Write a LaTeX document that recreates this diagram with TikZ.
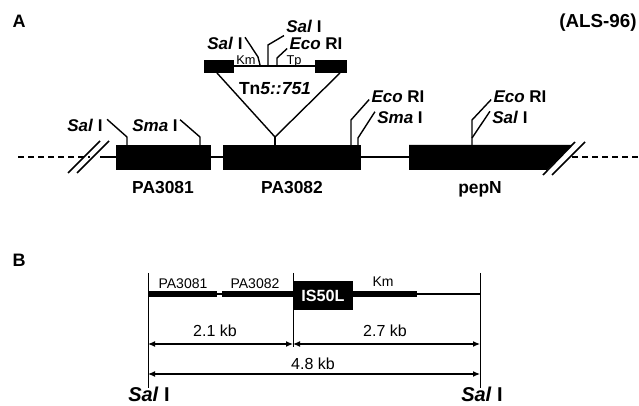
\documentclass[tikz,border=0pt]{standalone}
\usepackage{fontspec}
\setmainfont{Liberation Sans}
\usetikzlibrary{arrows.meta}
\newcommand{\fsz}[1]{\fontsize{#1}{#1}\selectfont}
\newcommand{\enz}[2]{\textit{#1} #2}
\tikzset{
  gene/.style={fill=black},
  lead/.style={line width=0.7pt},
  brk/.style={line width=0.8pt},
  site/.style={font=\fsz{8.5}\bfseries, inner sep=0pt, anchor=base},
  genelbl/.style={font=\fsz{8.7}\bfseries, inner sep=0pt, anchor=base},
  small/.style={font=\fsz{6.4}, inner sep=0pt, anchor=base},
  mapB/.style={font=\fsz{7}, inner sep=0pt, anchor=base},
  thick line/.style={line width=2.6pt},
  thin line/.style={line width=0.7pt},
}
\begin{document}
\begin{tikzpicture}[x=0.5pt,y=-0.5pt,>={Latex[length=3.5pt,width=3pt]}]
\useasboundingbox (0,0) rectangle (639,406);

% panel A
\node[font=\fsz{9}\bfseries, inner sep=0pt, anchor=base] (panA) at (19,28) {A};
\node[font=\fsz{9.4}\bfseries, inner sep=0pt, anchor=base] (strain) at (598,28) {(ALS-96)};

\draw[line width=1pt, dash pattern=on 3pt off 2pt] (18,157) -- (90,157);
\draw[line width=1pt] (100,157) -- (555,157);
\draw[line width=1pt, dash pattern=on 3pt off 2pt] (572,157) -- (639,157);
\draw[brk] (68,173) -- (100,141);
\draw[brk] (77,173) -- (109,141);
\draw[brk] (543,175) -- (575,142);
\draw[brk] (552,175) -- (585,142);

\fill[gene] (116,145) rectangle (211,170);
\fill[gene] (223,145) rectangle (361,170);
\fill[gene] (409,145) -- (572,145) -- (547,170) -- (409,170) -- cycle;

\node[genelbl] (pa81) at (163,194) {PA3081};
\node[genelbl] (pa82) at (292,194) {PA3082};
\node[genelbl] (pepn) at (480,194) {pepN};

\node[site] (salA) at (85,132) {\enz{Sal}{I}};
\node[site] (smaA) at (155,132) {\enz{Sma}{I}};
\draw[lead] ([xshift=2pt]salA.north east) -- (127,137) -- (127,145);
\draw[lead] ([xshift=1pt]smaA.north east) -- (200,137) -- (200,145);

\node[site] (ecoB) at (398,103) {\enz{Eco}{RI}};
\node[site] (smaB) at (400,124) {\enz{Sma}{I}};
\draw[lead] ([xshift=-1pt,yshift=2pt]ecoB.south west) -- (351,120) -- (351,145);
\draw[lead] ([xshift=-1pt]smaB.north west) -- (358,138) -- (358,145);

\node[site] (ecoC) at (520,103) {\enz{Eco}{RI}};
\node[site] (salC) at (510,124) {\enz{Sal}{I}};
\draw[lead] ([xshift=-1pt,yshift=2pt]ecoC.south west) -- (472,120) -- (472,145);
\draw[lead] ([xshift=-1pt]salC.north west) -- (472,138);

% Tn5 insertion
\draw[lead] (217,73) -- (275,137) -- (340,73);
\draw[lead] (275,137) -- (275,145);
\draw[line width=1pt] (234,66) -- (315,66);
\fill[gene] (204,60) rectangle (234,73);
\fill[gene] (315,60) rectangle (347,73);
\node[small] (km) at (246,65) {Km};
\node[small] (tp) at (294,65) {Tp};
\node[font=\fsz{8.75}\bfseries, inner sep=0pt, anchor=base] (tn) at (275,95) {Tn\textit{5::751}};

\node[site] (salD) at (225,50) {\enz{Sal}{I}};
\node[site] (salE) at (304,33) {\enz{Sal}{I}};
\node[site] (ecoE) at (316,50) {\enz{Eco}{RI}};
\draw[lead] ([xshift=1pt]salD.north east) -- (258,57) -- (260,65);
\draw[lead] ([xshift=-1pt,yshift=-1pt]salE.south west) -- (268,45) -- (268,65);
\draw[lead] ([xshift=-1pt,yshift=1pt]ecoE.south west) -- (277,58) -- (277,65);

% panel B
\node[font=\fsz{9}\bfseries, inner sep=0pt, anchor=base] (panB) at (19,267) {B};

\coordinate (lt) at (148,273);
\coordinate (lb) at (148,388);
\coordinate (rt) at (480,273);
\coordinate (rb) at (480,388);
\coordinate (mt) at (293,273);
\coordinate (mb) at (293,347);
\draw[line width=0.5pt] (lt) -- (lb);
\draw[line width=0.5pt] (rt) -- (rb);
\draw[line width=0.4pt] (mt) -- (mb);

\draw[thin line] (148,294) -- (480,294);
\draw[thick line] (148,294) -- (217,294);
\draw[thick line] (222,294) -- (293,294);
\draw[thick line] (353,294) -- (417,294);
\node[fill=black, minimum width=30pt, minimum height=14.5pt, inner sep=0pt,
      text=white, font=\fsz{8.1}\bfseries] (is) at (323,295.5) {IS50L};

\node[mapB] (b81) at (183,289) {PA3081};
\node[mapB] (b82) at (255,289) {PA3082};
\node[mapB] (bkm) at (383,287) {Km};

\coordinate (a1) at (148,344);
\coordinate (a2) at (293,344);
\coordinate (a3) at (480,344);
\coordinate (a4) at (148,374);
\coordinate (a5) at (480,374);
\draw[<->, line width=0.6pt] (a1) -- (a2);
\draw[<->, line width=0.6pt] (a2) -- (a3);
\draw[<->, line width=0.6pt] (a4) -- (a5);
\node[font=\fsz{8}, inner sep=0pt, anchor=base] (d21) at (215,337) {2.1 kb};
\node[font=\fsz{8}, inner sep=0pt, anchor=base] (d27) at (385,337) {2.7 kb};
\node[font=\fsz{8}, inner sep=0pt, anchor=base] (d48) at (313,370) {4.8 kb};

\node[font=\fsz{10}\bfseries, inner sep=0pt, anchor=base] (salL) at (149,402) {\enz{Sal}{I}};
\node[font=\fsz{10}\bfseries, inner sep=0pt, anchor=base] (salR) at (482,402) {\enz{Sal}{I}};
\end{tikzpicture}
\end{document}
